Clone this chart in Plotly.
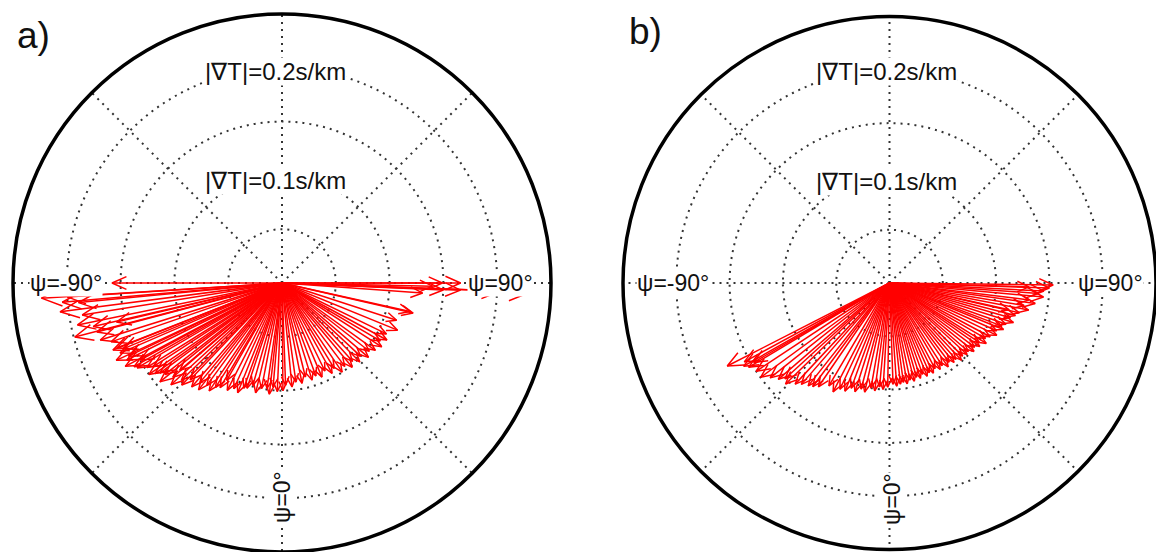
import numpy as np
import plotly.graph_objects as go

# ---------------- data (psi in degrees, |grad T| in s/km) ----------------
psi_a = [-90, -86.4, -85.0, -86.3, -84.5, -82.6, -80.9, -78.4, -77.0, -76.7,
         -75.4, -75.2, -72.6, -71.0, -68.5, -68.4, -67.5, -66.6, -65.0, -64.5,
         -63.6, -62.0, -61.5, -60.5, -59.6, -58.0, -57.0, -55.5, -54.5, -53.6,
         -52.0, -51.0, -49.5, -49.2, -47.5, -46.0, -44.5, -43.5, -41.0, -39.5,
         -38.0, -36.3, -34.0, -32.5, -30.6, -29.6, -27.0, -24.5, -22.0, -20.0,
         -18.4, -15.9, -13.5, -11.0, -8.1, -6.5, -4.9, -2.5, 0.5, 2.0,
         5.5, 8.0, 11.3, 14.0, 17.2, 20.0, 23.0, 26.0, 29.0, 31.5,
         34.0, 37.0, 39.8, 42.0, 44.6, 47.0, 49.3, 52.0, 54.2, 57.4,
         59.5, 61.5, 64.0, 67.8, 72.0, 77.1, 77.5, 85.9, 87.5, 87.7,
         88.8, 90, 90, 87.9, 87.9]
mag_a = [0.158, 0.224, 0.205, 0.200, 0.190, 0.208, 0.188, 0.194, 0.180, 0.158,
         0.199, 0.178, 0.177, 0.168, 0.165, 0.169, 0.160, 0.164, 0.170, 0.158,
         0.161, 0.165, 0.150, 0.158, 0.156, 0.148, 0.143, 0.150, 0.145, 0.141,
         0.138, 0.146, 0.125, 0.134, 0.140, 0.130, 0.133, 0.124, 0.128, 0.120,
         0.126, 0.118, 0.121, 0.115, 0.113, 0.104, 0.112, 0.108, 0.110, 0.104,
         0.103, 0.099, 0.105, 0.100, 0.099, 0.104, 0.097, 0.101, 0.100, 0.095,
         0.097, 0.093, 0.095, 0.090, 0.0945, 0.092, 0.095, 0.091, 0.096, 0.093,
         0.100, 0.097, 0.102, 0.098, 0.103, 0.100, 0.106, 0.103, 0.107, 0.110,
         0.106, 0.111, 0.108, 0.116, 0.112, 0.125, 0.122, 0.131, 0.150, 0.166,
         0.140, 0.149, 0.166, 0.203, 0.231]

psi_b = [89.3, 88.2, 88.4, 87.0, 86.0, 84.8, 83.1, 82.0, 80.5, 79.0,
         77.4, 77.1, 75.5, 74.0, 72.3, 70.5, 69.0, 67.8, 66.0, 64.0,
         61.9, 60.0, 58.0, 56.5, 54.9, 53.0, 51.0, 49.0, 47.3, 45.0,
         43.0, 41.0, 39.1, 37.0, 35.0, 32.5, 30.4, 28.0, 26.0, 24.0,
         22.0, 20.0, 18.0, 16.0, 14.2, 12.0, 10.0, 8.0, 6.2, 4.0,
         2.0, -1.0, -3.5, -5.5, -7.8, -10.0, -12.8, -15.0, -17.6, -20.0,
         -22.4, -25.0, -27.4, -30.5, -34.4, -36.5, -38.3, -41.0, -43.0, -45.8,
         -47.5, -49.1, -51.5, -53.8, -56.5, -59.1, -59.7, -60.3, -61.5, -62.9]
mag_b = [0.1535, 0.150, 0.131, 0.145, 0.140, 0.145, 0.132, 0.138, 0.128, 0.133,
         0.115, 0.125, 0.122, 0.118, 0.122, 0.116, 0.113, 0.1155, 0.110, 0.112,
         0.107, 0.104, 0.107, 0.101, 0.1035, 0.100, 0.102, 0.098, 0.099, 0.097,
         0.099, 0.095, 0.096, 0.093, 0.096, 0.092, 0.094, 0.091, 0.094, 0.092,
         0.0943, 0.091, 0.094, 0.092, 0.095, 0.093, 0.096, 0.094, 0.0954, 0.097,
         0.095, 0.0977, 0.100, 0.098, 0.102, 0.100, 0.105, 0.103, 0.107, 0.105,
         0.1097, 0.110, 0.115, 0.112, 0.118, 0.121, 0.123, 0.126, 0.1297, 0.136,
         0.133, 0.138, 0.143, 0.1498, 0.150, 0.154, 0.1476, 0.1575, 0.155, 0.171]

ring_vals = [0.05, 0.10, 0.15, 0.20]
spoke_vals = [0, 45, 90, 135, 180, 225, 270, 315]
r_max = 0.25

W, H = 1156, 552
HEAD_FRAC = 0.085
HEAD_HALF = np.radians(24)


def arrow_paths(psi, mag):
    rs, ts = [], []
    for p, m in zip(psi, mag):
        th = np.radians(p)
        u, v = m * np.sin(th), m * np.cos(th)
        eu, ev = u / m, v / m
        pu, pv = -ev, eu
        h = HEAD_FRAC * m
        w = h * np.tan(HEAD_HALF)
        b1 = (u - h * eu + w * pu, v - h * ev + w * pv)
        b2 = (u - h * eu - w * pu, v - h * ev - w * pv)
        rb1, tb1 = np.hypot(*b1), np.degrees(np.arctan2(b1[0], b1[1]))
        rb2, tb2 = np.hypot(*b2), np.degrees(np.arctan2(b2[0], b2[1]))
        rs += [0, m, None, rb1, m, rb2, None]
        ts += [p, p, None, tb1, p, tb2, None]
    return rs, ts


fig = go.Figure()
for name, psi, mag in [("polar", psi_a, mag_a), ("polar2", psi_b, mag_b)]:
    rs, ts = arrow_paths(psi, mag)
    fig.add_trace(go.Scatterpolar(r=rs, theta=ts, mode="lines", subplot=name,
                                  line=dict(color="#ff0000", width=1.5),
                                  connectgaps=False, hoverinfo="skip",
                                  showlegend=False))

grid_dash = "2px,5px"
grid_col = "#333333"


def polar_layout(dx, dy):
    return dict(
        domain=dict(x=dx, y=dy),
        bgcolor="white",
        radialaxis=dict(range=[0, r_max], tickvals=ring_vals, showticklabels=False,
                        ticks="", showline=False, showgrid=True, gridcolor=grid_col,
                        gridwidth=1.6, griddash=grid_dash),
        angularaxis=dict(rotation=-90, direction="counterclockwise",
                         tickvals=spoke_vals, showticklabels=False, ticks="",
                         showline=True, linecolor="black", linewidth=3.5,
                         showgrid=True, gridcolor=grid_col, gridwidth=1.6,
                         griddash=grid_dash),
    )


fig.update_layout(
    width=W, height=H, margin=dict(l=0, r=0, t=0, b=0),
    paper_bgcolor="white", showlegend=False,
    polar=polar_layout([13 / W, 551 / W], [0, 538 / H]),
    polar2=polar_layout([623 / W, 1.0], [0, 538 / H]),
)

font = dict(family="Liberation Sans, Arial, Helvetica, sans-serif", size=22, color="#111111")
labels = [
    ("a)", 33, 36, 0, 37, None),
    ("b)", 645, 31, 0, 37, None),
    ("|∇T|=0.2s/km", 275, 71, 0, 24, "white"),
    ("|∇T|=0.1s/km", 275, 180, 0, 24, "white"),
    ("ψ=-90°", 66, 283, 0, 23, "white"),
    ("ψ=90°", 500, 283, 0, 23, "white"),
    ("ψ=0°", 282, 497, -90, 23, "white"),
    ("|∇T|=0.2s/km", 886, 71, 0, 24, "white"),
    ("|∇T|=0.1s/km", 886, 181, 0, 24, "white"),
    ("ψ=-90°", 673, 283, 0, 23, "white"),
    ("ψ=90°", 1110, 283, 0, 23, "white"),
    ("ψ=0°", 892, 499, -90, 23, "white"),
]
for txt, px, py, ang, sz, bg in labels:
    fig.add_annotation(text=txt, x=px / W, y=1 - py / H, xref="paper", yref="paper",
                       xanchor="center", yanchor="middle", showarrow=False,
                       textangle=ang, font=dict(font, size=sz),
                       bgcolor=bg if bg else "rgba(0,0,0,0)", borderpad=0)

fig.write_html("out.html")
